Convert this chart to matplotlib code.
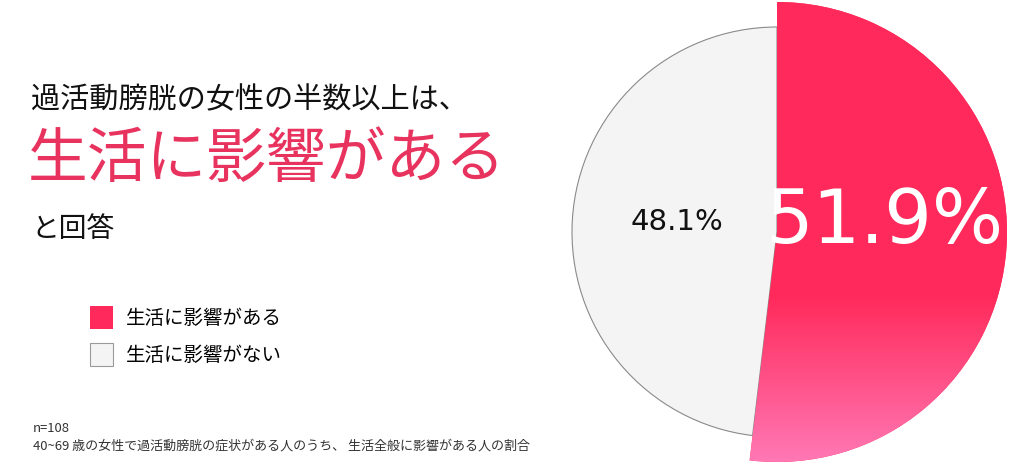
import numpy as np
import matplotlib
matplotlib.use("Agg")
import matplotlib.pyplot as plt
from matplotlib.colors import LinearSegmentedColormap
from matplotlib.patches import Patch

# ---- data ----
categories = ["生活に影響がある", "生活に影響がない"]
values = [51.9, 48.1]
title_line1 = "過活動膀胱の女性の半数以上は、"
title_line2 = "生活に影響がある"
title_line3 = "と回答"
note_line1 = "n=108"
note_line2 = "40~69 歳の女性で過活動膀胱の症状がある人のうち、 生活全般に影響がある人の割合"

JP = ["Noto Sans CJK JP", "DejaVu Sans"]
plt.rcParams["font.family"] = JP

W, H = 1024, 476
fig = plt.figure(figsize=(W / 100, H / 100), dpi=100)
ax = fig.add_axes([0, 0, 1, 1])

red_top = "#FF2A5B"
red_bottom = "#FF78B4"
gray = "#F4F4F4"

cx, cy = 777, H - 232
r_gray = 205
r_red = 230

wedges, _ = ax.pie(values, colors=[red_top, gray], startangle=90,
                   counterclock=False, radius=r_gray, center=(cx, cy),
                   wedgeprops=dict(linewidth=0))
wedges[0].set_radius(r_red)
wedges[1].set_edgecolor("#8a8a8a")
wedges[1].set_linewidth(0.8)

# gradient on the red slice
cmap = LinearSegmentedColormap.from_list("g", [(0, red_bottom), (1, red_top)])
ys = np.linspace(0, 1, 256)
grad = np.clip((ys - 0.0) / 0.36, 0, 1)[:, None]
im = ax.imshow(grad, cmap=cmap, vmin=0, vmax=1, origin="lower",
               extent=[cx - r_red, cx + r_red, cy - r_red, cy + r_red],
               aspect="auto", zorder=wedges[0].get_zorder() + 0.1)
im.set_clip_path(wedges[0])

ax.set_xlim(0, W)
ax.set_ylim(0, H)
ax.set_aspect("equal")
ax.axis("off")

# percentage labels
ax.text(677, H - 222, f"{values[1]:.1f}%", family="DejaVu Sans", fontsize=21,
        color="#111111", ha="center", va="center", zorder=5)
ax.text(884, H - 222, f"{values[0]:.1f}%", family="DejaVu Sans", fontsize=54,
        color="white", ha="center", va="center", zorder=5)

# titles
ax.text(31, H - 100, title_line1, fontsize=21, color="#111111",
        ha="left", va="center")
ax.text(28, H - 160, title_line2, fontsize=43, color="#E8335F",
        ha="left", va="center")
ax.text(31, H - 229, title_line3, fontsize=20, color="#111111",
        ha="left", va="center")

# legend
handles = [Patch(facecolor=red_top, edgecolor="none", label=categories[0]),
           Patch(facecolor=gray, edgecolor="#9a9a9a", linewidth=0.8,
                 label=categories[1])]
fig.legend(handles=handles, loc="upper left",
           bbox_to_anchor=(74 / W, 1 - 290 / H), frameon=False,
           fontsize=14, handlelength=1.2, handleheight=1.45,
           handletextpad=0.65, labelspacing=0.75, borderpad=0.3)

# notes
ax.text(33, H - 428, note_line1, fontsize=9.4, color="#333333",
        ha="left", va="center")
ax.text(33, H - 446, note_line2, fontsize=9.4, color="#333333",
        ha="left", va="center")

fig.savefig("out.png", dpi=100, facecolor="white")
